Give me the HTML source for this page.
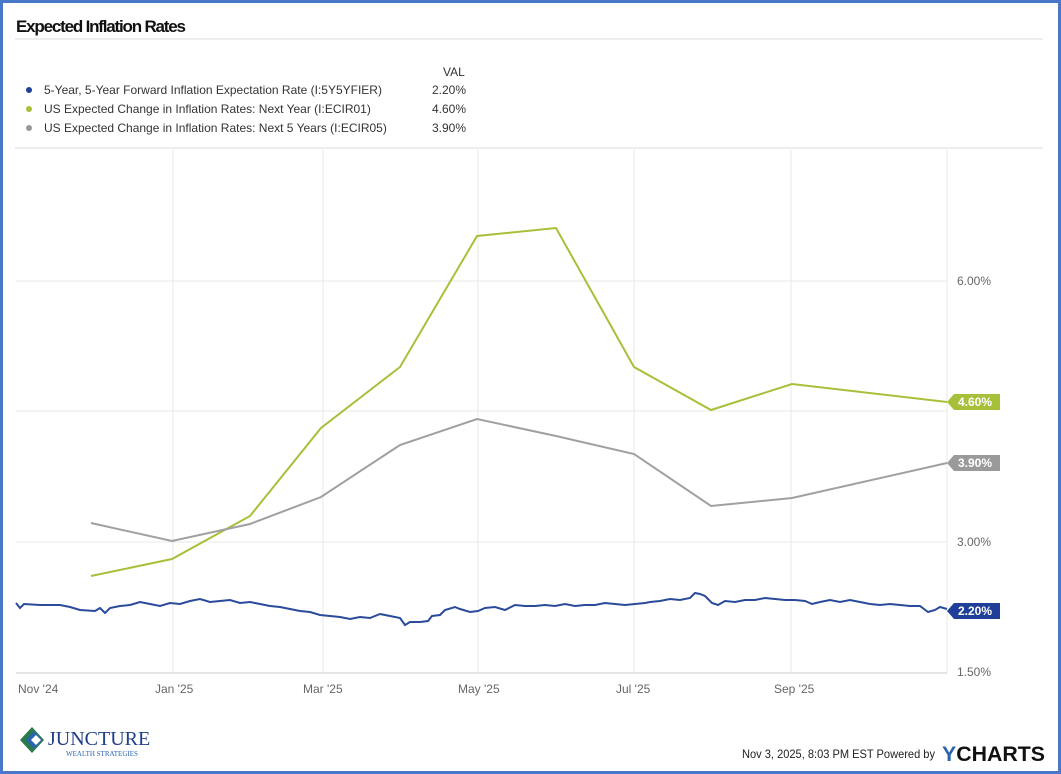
<!DOCTYPE html>
<html><head><meta charset="utf-8"><style>
html,body{margin:0;padding:0;background:#fff}
body{width:1061px;height:774px;position:relative;overflow:hidden;font-family:"Liberation Sans",sans-serif}
.frame{position:absolute;left:0;top:0;width:1055px;height:768px;border:3px solid #4a78c8}
</style></head><body>
<div class="frame"></div>
<svg width="1061" height="774" style="position:absolute;left:0;top:0" font-family="Liberation Sans, sans-serif">
<text x="16" y="32" font-size="17" font-weight="bold" fill="#111" textLength="170">Expected Inflation Rates</text>
<line x1="15" y1="39" x2="1043" y2="39" stroke="#ddd"/>
<text x="443" y="76" font-size="12" fill="#333">VAL</text>
<circle cx="29" cy="90" r="3" fill="#1f3f99"/>
<text x="44" y="94" font-size="12" fill="#333">5-Year, 5-Year Forward Inflation Expectation Rate (I:5Y5YFIER)</text>
<text x="432" y="94" font-size="12" fill="#333">2.20%</text>
<circle cx="29" cy="109" r="3" fill="#a6c03a"/>
<text x="44" y="113" font-size="12" fill="#333">US Expected Change in Inflation Rates: Next Year (I:ECIR01)</text>
<text x="432" y="113" font-size="12" fill="#333">4.60%</text>
<circle cx="29" cy="128" r="3" fill="#999"/>
<text x="44" y="132" font-size="12" fill="#333">US Expected Change in Inflation Rates: Next 5 Years (I:ECIR05)</text>
<text x="432" y="132" font-size="12" fill="#333">3.90%</text>
<line x1="15" y1="148" x2="1043" y2="148" stroke="#ddd"/>
<g stroke="#e8e8e8">
<line x1="16" y1="281" x2="947" y2="281"/><line x1="16" y1="411" x2="947" y2="411"/><line x1="16" y1="542" x2="947" y2="542"/>
<line x1="173" y1="150" x2="173" y2="673"/><line x1="323" y1="150" x2="323" y2="673"/><line x1="478" y1="150" x2="478" y2="673"/><line x1="634" y1="150" x2="634" y2="673"/><line x1="791" y1="150" x2="791" y2="673"/><line x1="947" y1="150" x2="947" y2="673"/>
</g>
<line x1="16" y1="673" x2="947" y2="673" stroke="#ccc"/>
<g font-size="12" fill="#666">
<text x="957" y="285">6.00%</text><text x="957" y="546">3.00%</text><text x="957" y="676">1.50%</text>
<text x="18" y="693">Nov '24</text><text x="155" y="693">Jan '25</text><text x="303" y="693">Mar '25</text><text x="458" y="693">May '25</text><text x="616" y="693">Jul '25</text><text x="774" y="693">Sep '25</text>
</g>
<polyline fill="none" stroke="#a6c03a" stroke-width="2" points="91,576 172,559 250,516 321,428 400,367 477,236 556,228 634,367 711,410 792,384 947,402"/>
<polyline fill="none" stroke="#a0a0a0" stroke-width="2" points="91,523 172,541 250,524 321,497 400,445 477,419 556,436 634,454 711,506 792,498 947,463"/>
<polyline fill="none" stroke="#2a4b9b" stroke-width="2" points="16,603 20,608 24,604 40,605 60,605 70,607 80,610 95,611 100,608 105,613 110,608 120,606 130,605 140,602 150,604 160,606 170,603 180,604 190,601 200,599 210,602 220,601 230,600 240,603 250,602 260,604 270,606 280,607 290,609 300,611 310,612 320,615 330,616 340,617 350,619 360,617 370,618 380,614 390,616 400,618 405,625 410,622 420,622 428,621 432,616 440,615 445,610 455,607 460,609 470,612 478,611 485,608 495,607 505,610 515,605 525,606 535,606 545,605 555,606 565,604 575,606 585,605 595,605 605,603 615,604 625,605 635,604 645,603 650,602 660,601 670,599 680,600 690,598 695,593 700,594 705,596 712,603 718,605 725,601 735,602 745,600 755,600 765,598 775,599 785,600 795,600 805,601 812,604 820,602 830,600 840,602 850,600 860,602 870,604 880,605 890,604 900,605 910,606 920,606 928,612 935,610 940,607 947,609"/>
<path d="M947,402 L954,394 H1000 V410 H954 Z" fill="#a6c03a"/>
<text x="958" y="406" font-size="12" font-weight="bold" fill="#fff">4.60%</text>
<path d="M947,463 L954,455 H1000 V471 H954 Z" fill="#9a9a9a"/>
<text x="958" y="467" font-size="12" font-weight="bold" fill="#fff">3.90%</text>
<path d="M947,611 L954,603 H1000 V619 H954 Z" fill="#1f3f99"/>
<text x="958" y="615" font-size="12" font-weight="bold" fill="#fff">2.20%</text>
<path d="M20,740 L32,727 L44,740 L32,753 Z" fill="#2a7a4a"/>
<path d="M26,740 L34,731 L42,740 L34,749 Z" fill="#2a64b0"/>
<path d="M31,740 L36,735 L41,740 L36,745 Z" fill="#fff"/>
<text x="48" y="745" font-family="Liberation Serif, serif" font-size="20" fill="#1f3f88">JUNCTURE</text>
<text x="66" y="756" font-family="Liberation Serif, serif" font-size="7" fill="#2a64b0">WEALTH STRATEGIES</text>
<text x="742" y="758" font-size="12" fill="#222" textLength="193" lengthAdjust="spacingAndGlyphs">Nov 3, 2025, 8:03 PM EST Powered by</text>
<text x="942" y="761" font-size="21" font-weight="bold" fill="#111" textLength="103" lengthAdjust="spacingAndGlyphs"><tspan fill="#2a64b0">Y</tspan>CHARTS</text>
</svg>
</body></html>
